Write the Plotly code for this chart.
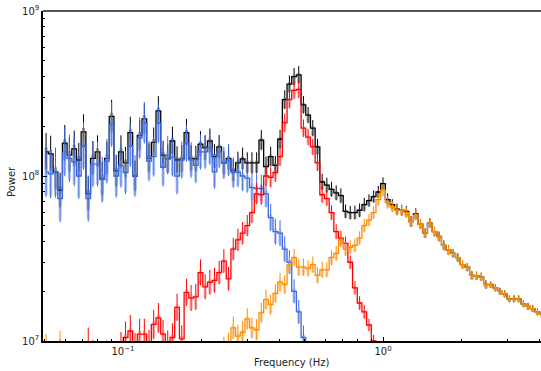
import plotly.graph_objects as go

# ---------------- data ----------------
freq = [0.0506, 0.0527, 0.0550, 0.0573, 0.0597, 0.0622, 0.0649, 0.0676, 0.0705, 0.0735,
        0.0766, 0.0798, 0.0832, 0.0867, 0.0904, 0.0942, 0.0982, 0.1023, 0.1067, 0.1112,
        0.1159, 0.1208, 0.1259, 0.1312, 0.1368, 0.1426, 0.1486, 0.1549, 0.1614, 0.1683,
        0.1754, 0.1828, 0.1905, 0.1986, 0.2070, 0.2158, 0.2249, 0.2344, 0.2443, 0.2547,
        0.2655, 0.2767, 0.2884, 0.3006, 0.3133, 0.3266, 0.3404, 0.3548, 0.3698, 0.3855,
        0.4018, 0.4188, 0.4365, 0.4550, 0.4742, 0.4943, 0.5152, 0.5370, 0.5598, 0.5834,
        0.6081, 0.6339, 0.6607, 0.6887, 0.7178, 0.7482, 0.7798, 0.8128, 0.8472, 0.8831,
        0.9204, 0.9594, 1.000, 1.042, 1.086, 1.132, 1.180, 1.230, 1.282, 1.337,
        1.393, 1.452, 1.514, 1.578, 1.644, 1.714, 1.786, 1.862, 1.941, 2.023,
        2.109, 2.198, 2.291, 2.388, 2.489, 2.594, 2.704, 2.818, 2.938, 3.062,
        3.192, 3.327, 3.467, 3.614, 3.767, 3.926, 4.093]

# powers in units of 1e8
total_power = [1.40, 1.36, 1.06, 0.82, 1.58, 1.34, 1.46, 1.25, 1.85, 0.78,
               1.28, 1.40, 0.96, 1.28, 2.30, 1.07, 1.40, 1.20, 1.83, 1.00,
               1.76, 2.22, 1.28, 1.60, 2.48, 1.34, 1.27, 1.63, 1.25, 1.27,
               1.83, 1.28, 1.27, 1.56, 1.48, 1.63, 1.31, 1.50, 1.20, 1.28,
               1.08, 1.20, 1.27, 1.20, 1.20, 1.20, 1.65, 1.14, 1.31, 1.16,
               1.67, 2.90, 3.60, 4.00, 4.10, 2.70, 2.34, 1.95, 1.50, 0.92,
               0.88, 0.83, 0.79, 0.76, 0.61, 0.60, 0.60, 0.62, 0.67, 0.71,
               0.75, 0.80, 0.90, 0.72, 0.67, 0.63, 0.62, 0.61, 0.53, 0.59,
               0.51, 0.45, 0.52, 0.46, 0.43, 0.38, 0.355, 0.34, 0.32, 0.29,
               0.28, 0.25, 0.248, 0.245, 0.22, 0.22, 0.21, 0.20, 0.193, 0.18,
               0.18, 0.18, 0.168, 0.162, 0.157, 0.15, 0.145]

lowfreq_power = [1.06, 1.03, 1.05, 0.73, 1.40, 1.28, 1.22, 1.00, 1.52, 0.73,
                 1.18, 1.18, 0.95, 1.23, 2.05, 1.00, 1.16, 1.05, 1.53, 1.00,
                 1.70, 2.10, 1.23, 1.31, 2.10, 1.13, 1.34, 1.30, 1.00, 1.25,
                 1.58, 1.25, 1.16, 1.40, 1.40, 1.48, 1.06, 1.40, 1.20, 1.25,
                 1.05, 1.06, 1.00, 0.97, 0.85, 0.84, 0.84, 0.78, 0.56, 0.46,
                 0.45, 0.36, 0.30, 0.20, 0.15, 0.105, 0.07, 0.05] + [None] * 49

qpo_power = [0.06, 0.07, 0.06, 0.08, 0.05, 0.07, 0.06, 0.075, 0.06, 0.095,
             0.08, 0.07, 0.075, 0.08, 0.07, 0.08, 0.09, 0.105, 0.115, 0.09,
             0.11, 0.11, 0.095, 0.126, 0.138, 0.11, 0.095, 0.105, 0.16, 0.103,
             0.197, 0.182, 0.185, 0.26, 0.213, 0.227, 0.233, 0.26, 0.305, 0.238,
             0.36, 0.41, 0.45, 0.50, 0.60, 0.78, 0.77, 1.00, 0.98, 1.05,
             1.31, 2.10, 2.90, 3.30, 3.35, 1.95, 1.72, 1.50, 1.20, 0.77,
             0.73, 0.60, 0.46, 0.42, 0.39, 0.30, 0.21, 0.17, 0.15, 0.125,
             0.10, 0.075, 0.05] + [None] * 34

hump_power = [0.085, 0.055, 0.05, 0.09, 0.045, 0.06, 0.05, 0.04, 0.055, 0.05,
              0.045, 0.06, 0.05, 0.055, 0.05, 0.045, 0.06, 0.05, 0.055, 0.06,
              0.05, 0.055, 0.06, 0.05, 0.06, 0.055, 0.065, 0.07, 0.06, 0.065,
              0.07, 0.06, 0.07, 0.075, 0.07, 0.08, 0.075, 0.085, 0.09, 0.095,
              0.12, 0.107, 0.113, 0.136, 0.12, 0.117, 0.148, 0.178, 0.166, 0.194,
              0.227, 0.22, 0.29, 0.32, 0.28, 0.28, 0.275, 0.29, 0.25, 0.27,
              0.27, 0.32, 0.34, 0.41, 0.36, 0.37, 0.38, 0.42, 0.50, 0.54,
              0.60, 0.72, 0.82, 0.69, 0.65, 0.62, 0.62, 0.60, 0.53, 0.58,
              0.51, 0.45, 0.52, 0.46, 0.43, 0.38, 0.355, 0.34, 0.32, 0.29,
              0.28, 0.25, 0.248, 0.245, 0.22, 0.22, 0.21, 0.20, 0.193, 0.18,
              0.18, 0.18, 0.168, 0.162, 0.157, 0.15, 0.145]

# relative uncertainty per frequency bin
rel_err = [0.30, 0.29, 0.30, 0.28, 0.29, 0.28, 0.29, 0.27, 0.28, 0.27,
           0.27, 0.26, 0.27, 0.26, 0.26, 0.25, 0.26, 0.25, 0.25, 0.24,
           0.24, 0.24, 0.23, 0.23, 0.23, 0.22, 0.22, 0.22, 0.21, 0.21,
           0.21, 0.20, 0.20, 0.20, 0.19, 0.19, 0.19, 0.18, 0.18, 0.18,
           0.17, 0.17, 0.17, 0.16, 0.16, 0.16, 0.15, 0.15, 0.15, 0.14,
           0.14, 0.14, 0.13, 0.13, 0.13, 0.13, 0.12, 0.12, 0.12, 0.12,
           0.11, 0.11, 0.11, 0.11, 0.10, 0.10, 0.10, 0.10, 0.10, 0.09,
           0.09, 0.09, 0.09, 0.09, 0.08, 0.08, 0.08, 0.08, 0.08, 0.08,
           0.07, 0.07, 0.07, 0.07, 0.07, 0.07, 0.07, 0.06, 0.06, 0.06,
           0.06, 0.06, 0.06, 0.06, 0.06, 0.05, 0.05, 0.05, 0.05, 0.05,
           0.05, 0.05, 0.05, 0.05, 0.05, 0.05, 0.05]

UNIT = 1e8

x_major = [0.1, 1.0]
x_major_text = ["10<sup>\u22121</sup>", "10<sup>0</sup>"]
x_minor = [0.05, 0.06, 0.07, 0.08, 0.09, 0.2, 0.3, 0.4, 0.5, 0.6, 0.7, 0.8, 0.9, 2, 3, 4]
y_major = [1e7, 1e8, 1e9]
y_major_text = ["10<sup>7</sup>", "10<sup>8</sup>", "10<sup>9</sup>"]
y_minor = [2e7, 3e7, 4e7, 5e7, 6e7, 7e7, 8e7, 9e7, 2e8, 3e8, 4e8, 5e8, 6e8, 7e8, 8e8, 9e8]

# ---------------- figure ----------------
series = [
    (total_power, "#000000", "rgba(90,90,90,0.6)", 1.0),
    (lowfreq_power, "#3b68dc", "rgba(110,145,235,0.55)", 1.4),
    (qpo_power, "#ff0000", "rgba(255,90,90,0.5)", 1.0),
    (hump_power, "#ff8c00", "rgba(255,165,50,0.5)", 1.0),
]

fig = go.Figure()
for vals, col, tcol, mult in series:
    thin_x, thin_y, thick_x, thick_y = [], [], [], []
    ys = []
    for f, v, e in zip(freq, vals, rel_err):
        if v is None:
            ys.append(None)
            continue
        y = v * UNIT
        ys.append(y)
        ee = e * mult
        thin_x += [f, f, None]
        thin_y += [y / (1 + ee), y * (1 + ee), None]
        thick_x += [f, f, None]
        thick_y += [y / (1 + 0.9 * ee), y * (1 + 0.2 * ee), None]
    fig.add_trace(go.Scatter(x=thin_x, y=thin_y, mode="lines",
                             line=dict(color=col, width=1), hoverinfo="skip"))
    fig.add_trace(go.Scatter(x=thick_x, y=thick_y, mode="lines",
                             line=dict(color=tcol, width=3), hoverinfo="skip"))
    fig.add_trace(go.Scatter(x=freq, y=ys, mode="lines",
                             line=dict(color=col, width=1.3, shape="hvh"),
                             connectgaps=False))

fig.update_layout(
    width=541, height=371,
    margin=dict(l=43, r=0, t=11, b=30),
    paper_bgcolor="white", plot_bgcolor="white",
    showlegend=False,
    font=dict(family="DejaVu Sans", size=10, color="#222222"),
)
fig.update_xaxes(
    type="log", range=[-1.3077, 0.6077],
    showline=True, linecolor="black", linewidth=1.5,
    showgrid=False, zeroline=False,
    ticks="inside", ticklen=4, tickcolor="black", tickwidth=1,
    tickmode="array", tickvals=x_major, ticktext=x_major_text,
    minor=dict(tickmode="array", tickvals=x_minor, ticks="inside",
               ticklen=2, tickcolor="black", tickwidth=1, showgrid=False),
)
fig.update_yaxes(
    type="log", range=[7, 9],
    showline=True, linecolor="black", linewidth=1.5,
    showgrid=False, zeroline=False,
    ticks="inside", ticklen=4, tickcolor="black", tickwidth=1,
    tickmode="array", tickvals=y_major, ticktext=y_major_text,
    minor=dict(tickmode="array", tickvals=y_minor, ticks="inside",
               ticklen=2, tickcolor="black", tickwidth=1, showgrid=False),
)
fig.add_shape(type="line", xref="paper", yref="paper", x0=0, x1=1, y0=1, y1=1,
              line=dict(color="#555555", width=2))
fig.add_annotation(text="Frequency (Hz)", xref="paper", yref="paper",
                   x=0.5, y=-0.064, yanchor="middle", showarrow=False,
                   font=dict(size=10))
fig.add_annotation(text="Power", xref="paper", yref="paper",
                   x=-0.062, y=0.482, xanchor="center", yanchor="middle",
                   textangle=-90, showarrow=False, font=dict(size=10))

fig.write_html("out.html")
